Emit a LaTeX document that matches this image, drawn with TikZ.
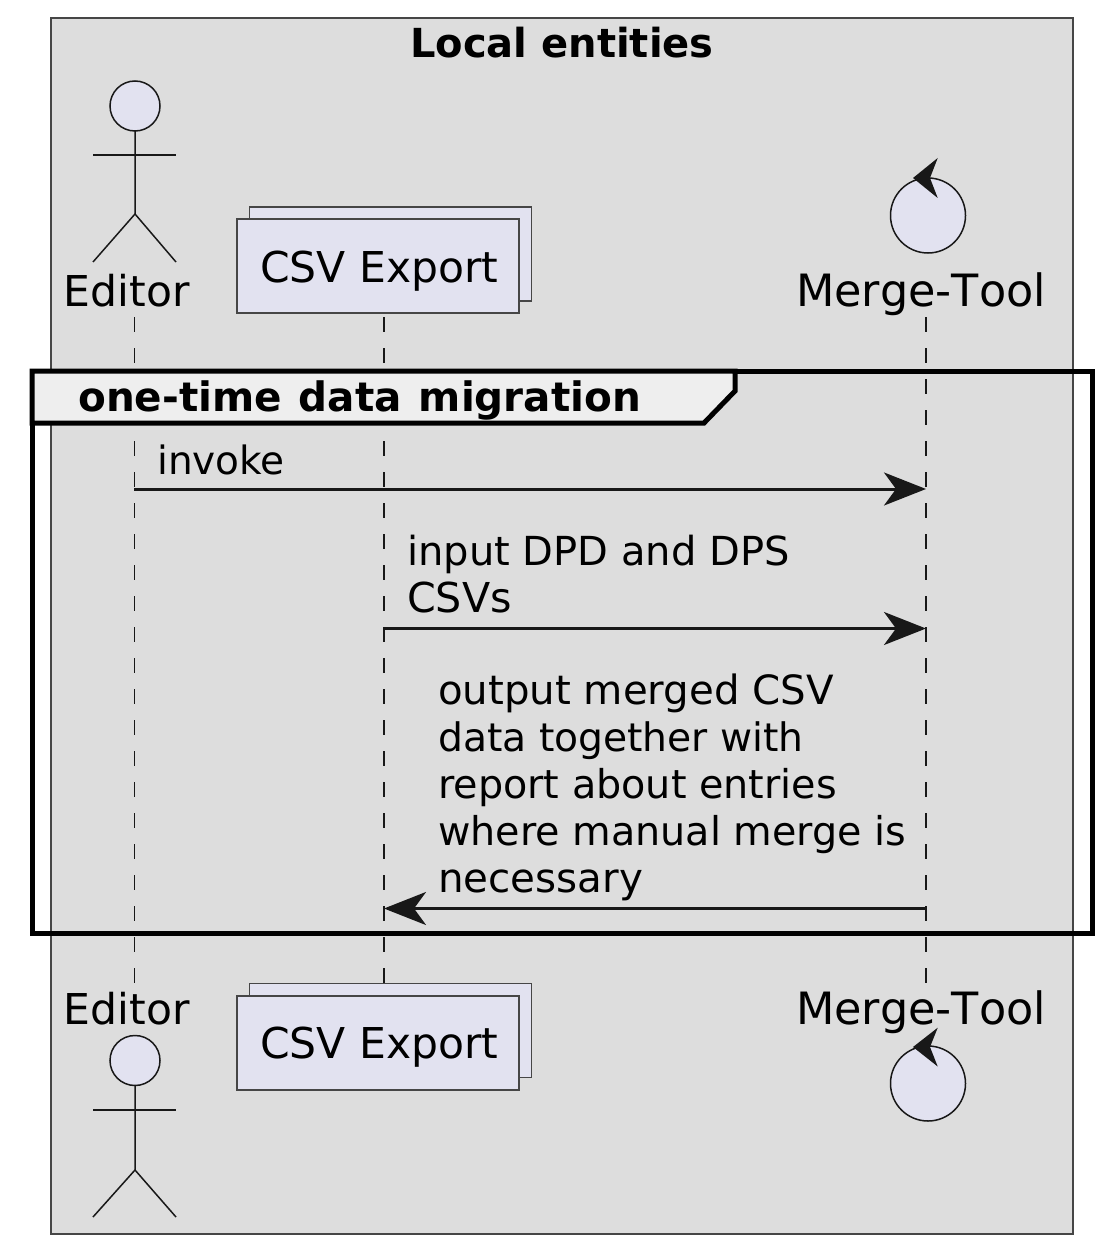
\documentclass[tikz,border=0pt]{standalone}
\usepackage{fontspec}
\setmainfont{DejaVu Sans}
\newfontfamily\nokernfont[Kerning=Off]{DejaVu Sans}
\newfontfamily\grpfont[WordSpace=1.2]{DejaVu Sans}
\usetikzlibrary{arrows.meta}
\definecolor{partfill}{HTML}{E2E2F0}
\definecolor{boxfill}{HTML}{DDDDDD}
\definecolor{tabfill}{HTML}{EEEEEE}
\definecolor{ink}{HTML}{181818}
\begin{document}
\begin{tikzpicture}[x=1pt,y=-1pt]
    \tikzset{
    localbox/.style={rectangle,fill=boxfill,draw=ink!80,line width=1.5pt,inner sep=0,minimum width=1022pt,minimum height=1216pt},
    head/.style={circle,fill=partfill,draw=ink,line width=1.5pt,inner sep=0,outer sep=0,minimum size=50pt},
    ctrl/.style={circle,fill=partfill,draw=ink,line width=1.5pt,inner sep=0,minimum size=75pt},
    coll/.style={rectangle,fill=partfill,draw=ink!80,line width=1.5pt,inner sep=0,minimum width=282pt,minimum height=94pt},
    limb/.style={draw=ink,line width=1.5pt},
    life/.style={draw=ink,line width=1.5pt,dash pattern=on 15pt off 16pt},
    msg/.style={draw=ink,line width=3pt,-{Stealth[length=42pt,width=33pt,inset=12pt]}},
    frame/.style={rectangle,draw=black,line width=5pt,inner sep=0,outer sep=0,minimum width=1060pt,minimum height=562pt},
    tab/.style={fill=tabfill,draw=black,line width=5pt},
    part/.style={inner sep=0,anchor=base west,font=\fontsize{42.5}{50}\selectfont},
    tool/.style={inner sep=0,anchor=base west,font=\nokernfont\fontsize{44.5}{50}\selectfont},
    msgtext/.style={inner sep=0,anchor=base west,font=\fontsize{#1}{47}\selectfont},
    msgtext/.default=40,
    bold/.style={inner sep=0,anchor=base west,font=\fontsize{40}{47}\selectfont\bfseries},
    grplabel/.style={inner sep=0,anchor=base west,font=\grpfont\fontsize{40.5}{47}\selectfont\bfseries},
    }
    \useasboundingbox (0,0) rectangle (1107,1249);

    \node[localbox] (local) at (562,626) {};
    \node[bold] (localname) at (410,57.5) {Local entities};

    % lifelines
    \coordinate (e1) at (134.5,317);
    \coordinate (e2) at (134.5,992);
    \coordinate (c1) at (384,317);
    \coordinate (c2) at (384,984);
    \coordinate (m1) at (926,317);
    \coordinate (m2) at (926,990);
    \draw[life] (e1) -- (e2);
    \draw[life] (c1) -- (c2);
    \draw[life] (m1) -- (m2);

    % top row
    \node[head] (ehead) at (135,106) {};
    \draw[limb] (ehead.south) -- (135,214) -- (93,262);
    \draw[limb] (135,214) -- (176,262);
    \draw[limb] (93,155) -- (176,155);
    \node[part] (etop) at (63.5,306) {Editor};
    \node[coll] (cback) at (390.5,254) {};
    \node[coll] (cfront) at (378,266) {};
    \node[part] (ctop) at (260,282) {CSV Export};
    \node[ctrl] (mcirc) at (928,215.5) {};
    \fill[ink] (937.7,158) -- (913,178) -- (937.7,198) -- (930,178) -- cycle;
    \node[tool] (mtop) at (796,306) {Merge-Tool};

    % bottom row
    \node[head] (ehead2) at (135,1060.5) {};
    \draw[limb] (ehead2.south) -- (135,1170) -- (93,1217);
    \draw[limb] (135,1170) -- (176,1217);
    \draw[limb] (93,1110) -- (176,1110);
    \node[part] (ebot) at (63.5,1024) {Editor};
    \node[coll] (cback2) at (390.5,1030.5) {};
    \node[coll] (cfront2) at (378,1043) {};
    \node[part] (cbot) at (260,1058) {CSV Export};
    \node[ctrl] (mcirc2) at (928,1083.5) {};
    \fill[ink] (937.7,1027.7) -- (913,1047) -- (937.7,1066.5) -- (930,1047) -- cycle;
    \node[tool] (mbot) at (796,1024) {Merge-Tool};

    % group
    \node[frame] (grp) at (562,652) {};
    \draw[tab] (grp.north west) -- (735,371) -- (735,391) -- (704,423) -- (32,423) -- cycle;
    \node[grplabel] (grpname) at (78,411) {one-time data migration};

    % messages
    \coordinate (a1) at (134,489);
    \coordinate (a2) at (926,489);
    \coordinate (b1) at (384,628.5);
    \coordinate (b2) at (926,628.5);
    \coordinate (d1) at (926,908.5);
    \coordinate (d2) at (384,908.5);
    \draw[msg] (a1) -- (a2);
    \draw[msg] (b1) -- (b2);
    \draw[msg] (d1) -- (d2);
    \node[msgtext=39] (minvoke) at (157,474) {invoke};
    \node[msgtext] (minput) at (407,565) {input DPD and DPS};
    \node[msgtext=41.2] (minput2) at (407,612) {CSVs};
    \node[msgtext=40.3] (mout) at (438,704) {output merged CSV};
    \node[msgtext=39.25] (mout2) at (438,751) {data together with};
    \node[msgtext=39.7] (mout3) at (438,798) {report about entries};
    \node[msgtext=39.65] (mout4) at (438,845) {where manual merge is};
    \node[msgtext=40.4] (mout5) at (438,892) {necessary};
\end{tikzpicture}
\end{document}
